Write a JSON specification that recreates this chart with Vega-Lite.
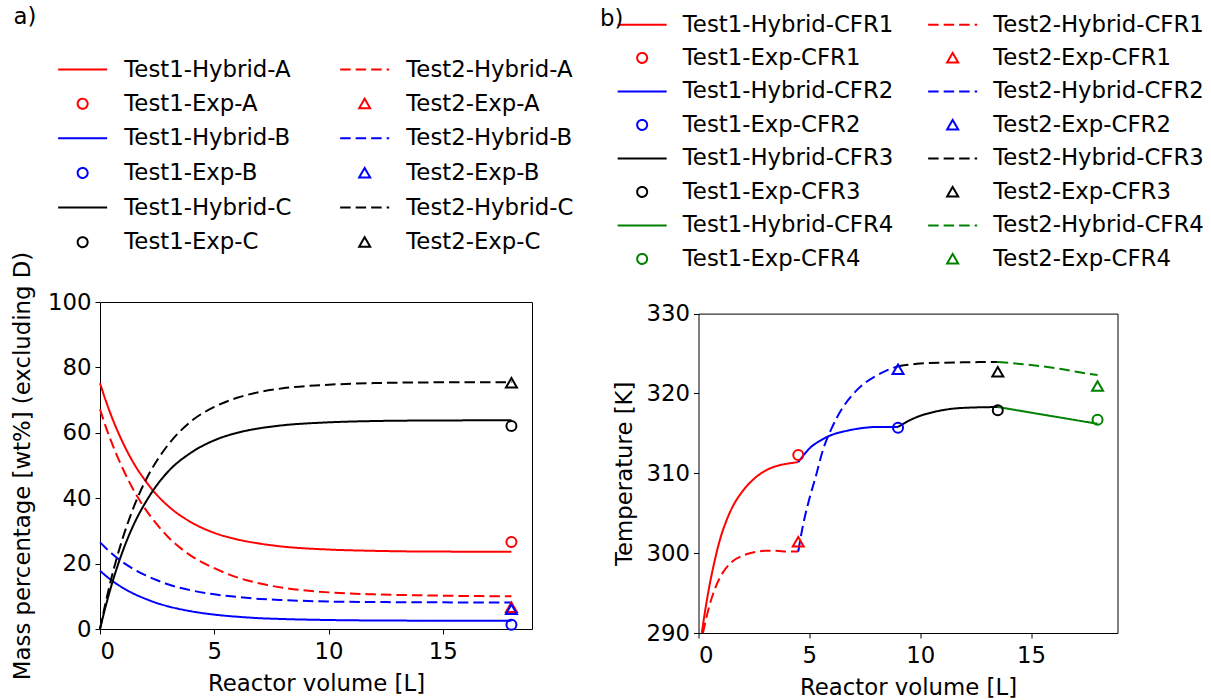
{
  "$schema": "https://vega.github.io/schema/vega-lite/v6.json",
  "padding": {"left": 10, "top": 5, "right": 5, "bottom": 0},
  "background": "white",
  "spacing": 24.5,
  "config": {
    "font": "DejaVu Sans",
    "view": {"stroke": "black", "strokeWidth": 1},
    "axis": {"grid": false, "domain": false, "tickColor": "black", "tickSize": 5, "tickWidth": 1, "labelFontSize": 22.8, "labelColor": "black", "titleFontSize": 22.8, "titleFontWeight": "normal", "titleColor": "black", "labelFont": "DejaVu Sans", "titleFont": "DejaVu Sans", "domainColor": "black", "domainWidth": 1},
    "legend": {"labelFontSize": 22.8, "labelFont": "DejaVu Sans", "labelColor": "black", "labelLimit": 400, "symbolStrokeWidth": 2, "symbolSize": 400, "columns": 2, "padding": 0},
    "title": {"fontSize": 22.8, "fontWeight": "normal", "font": "DejaVu Sans", "color": "black", "anchor": "start", "frame": "bounds", "offset": 0}
  },
  "datasets": {
    "leftLines": [
      {"series": "Test1-Hybrid-A", "volume": 0, "value": 75.2}, {"series": "Test1-Hybrid-A", "volume": 0.25, "value": 69.9}, {"series": "Test1-Hybrid-A", "volume": 0.5, "value": 65.1}, {"series": "Test1-Hybrid-A", "volume": 1, "value": 57.0}, {"series": "Test1-Hybrid-A", "volume": 1.5, "value": 50.4}, {"series": "Test1-Hybrid-A", "volume": 2, "value": 45.2}, {"series": "Test1-Hybrid-A", "volume": 2.5, "value": 40.9}, {"series": "Test1-Hybrid-A", "volume": 3, "value": 37.5}, {"series": "Test1-Hybrid-A", "volume": 4, "value": 32.6}, {"series": "Test1-Hybrid-A", "volume": 5, "value": 29.4}, {"series": "Test1-Hybrid-A", "volume": 6, "value": 27.4}, {"series": "Test1-Hybrid-A", "volume": 7, "value": 26.1}, {"series": "Test1-Hybrid-A", "volume": 8, "value": 25.2}, {"series": "Test1-Hybrid-A", "volume": 10, "value": 24.3}, {"series": "Test1-Hybrid-A", "volume": 12, "value": 23.9}, {"series": "Test1-Hybrid-A", "volume": 14, "value": 23.7}, {"series": "Test1-Hybrid-A", "volume": 16, "value": 23.65}, {"series": "Test1-Hybrid-A", "volume": 18, "value": 23.6},
      {"series": "Test2-Hybrid-A", "volume": 0, "value": 67.2}, {"series": "Test2-Hybrid-A", "volume": 0.25, "value": 61.9}, {"series": "Test2-Hybrid-A", "volume": 0.5, "value": 57.2}, {"series": "Test2-Hybrid-A", "volume": 1, "value": 49.0}, {"series": "Test2-Hybrid-A", "volume": 1.5, "value": 42.1}, {"series": "Test2-Hybrid-A", "volume": 2, "value": 36.5}, {"series": "Test2-Hybrid-A", "volume": 2.5, "value": 31.9}, {"series": "Test2-Hybrid-A", "volume": 3, "value": 28.0}, {"series": "Test2-Hybrid-A", "volume": 4, "value": 22.3}, {"series": "Test2-Hybrid-A", "volume": 5, "value": 18.6}, {"series": "Test2-Hybrid-A", "volume": 6, "value": 15.8}, {"series": "Test2-Hybrid-A", "volume": 7, "value": 13.9}, {"series": "Test2-Hybrid-A", "volume": 8, "value": 12.6}, {"series": "Test2-Hybrid-A", "volume": 10, "value": 11.2}, {"series": "Test2-Hybrid-A", "volume": 12, "value": 10.6}, {"series": "Test2-Hybrid-A", "volume": 14, "value": 10.3}, {"series": "Test2-Hybrid-A", "volume": 16, "value": 10.1}, {"series": "Test2-Hybrid-A", "volume": 18, "value": 10.0},
      {"series": "Test1-Hybrid-B", "volume": 0, "value": 17.8}, {"series": "Test1-Hybrid-B", "volume": 0.25, "value": 16.3}, {"series": "Test1-Hybrid-B", "volume": 0.5, "value": 14.9}, {"series": "Test1-Hybrid-B", "volume": 1, "value": 12.6}, {"series": "Test1-Hybrid-B", "volume": 1.5, "value": 10.7}, {"series": "Test1-Hybrid-B", "volume": 2, "value": 9.2}, {"series": "Test1-Hybrid-B", "volume": 2.5, "value": 7.9}, {"series": "Test1-Hybrid-B", "volume": 3, "value": 6.9}, {"series": "Test1-Hybrid-B", "volume": 4, "value": 5.4}, {"series": "Test1-Hybrid-B", "volume": 5, "value": 4.4}, {"series": "Test1-Hybrid-B", "volume": 6, "value": 3.75}, {"series": "Test1-Hybrid-B", "volume": 7, "value": 3.3}, {"series": "Test1-Hybrid-B", "volume": 8, "value": 3.05}, {"series": "Test1-Hybrid-B", "volume": 10, "value": 2.75}, {"series": "Test1-Hybrid-B", "volume": 12, "value": 2.6}, {"series": "Test1-Hybrid-B", "volume": 14, "value": 2.55}, {"series": "Test1-Hybrid-B", "volume": 16, "value": 2.5}, {"series": "Test1-Hybrid-B", "volume": 18, "value": 2.5},
      {"series": "Test2-Hybrid-B", "volume": 0, "value": 26.5}, {"series": "Test2-Hybrid-B", "volume": 0.25, "value": 24.8}, {"series": "Test2-Hybrid-B", "volume": 0.5, "value": 23.2}, {"series": "Test2-Hybrid-B", "volume": 1, "value": 20.4}, {"series": "Test2-Hybrid-B", "volume": 1.5, "value": 18.2}, {"series": "Test2-Hybrid-B", "volume": 2, "value": 16.4}, {"series": "Test2-Hybrid-B", "volume": 2.5, "value": 14.9}, {"series": "Test2-Hybrid-B", "volume": 3, "value": 13.6}, {"series": "Test2-Hybrid-B", "volume": 4, "value": 11.8}, {"series": "Test2-Hybrid-B", "volume": 5, "value": 10.6}, {"series": "Test2-Hybrid-B", "volume": 6, "value": 9.8}, {"series": "Test2-Hybrid-B", "volume": 7, "value": 9.2}, {"series": "Test2-Hybrid-B", "volume": 8, "value": 8.85}, {"series": "Test2-Hybrid-B", "volume": 10, "value": 8.4}, {"series": "Test2-Hybrid-B", "volume": 12, "value": 8.25}, {"series": "Test2-Hybrid-B", "volume": 14, "value": 8.17}, {"series": "Test2-Hybrid-B", "volume": 16, "value": 8.13}, {"series": "Test2-Hybrid-B", "volume": 18, "value": 8.1},
      {"series": "Test1-Hybrid-C", "volume": 0, "value": 0}, {"series": "Test1-Hybrid-C", "volume": 0.25, "value": 7.0}, {"series": "Test1-Hybrid-C", "volume": 0.5, "value": 13.3}, {"series": "Test1-Hybrid-C", "volume": 1, "value": 23.9}, {"series": "Test1-Hybrid-C", "volume": 1.5, "value": 32.3}, {"series": "Test1-Hybrid-C", "volume": 2, "value": 38.8}, {"series": "Test1-Hybrid-C", "volume": 2.5, "value": 44.1}, {"series": "Test1-Hybrid-C", "volume": 3, "value": 48.3}, {"series": "Test1-Hybrid-C", "volume": 4, "value": 54.0}, {"series": "Test1-Hybrid-C", "volume": 5, "value": 57.7}, {"series": "Test1-Hybrid-C", "volume": 6, "value": 60.0}, {"series": "Test1-Hybrid-C", "volume": 7, "value": 61.4}, {"series": "Test1-Hybrid-C", "volume": 8, "value": 62.3}, {"series": "Test1-Hybrid-C", "volume": 10, "value": 63.2}, {"series": "Test1-Hybrid-C", "volume": 12, "value": 63.6}, {"series": "Test1-Hybrid-C", "volume": 14, "value": 63.75}, {"series": "Test1-Hybrid-C", "volume": 16, "value": 63.8}, {"series": "Test1-Hybrid-C", "volume": 18, "value": 63.8},
      {"series": "Test2-Hybrid-C", "volume": 0, "value": 0}, {"series": "Test2-Hybrid-C", "volume": 0.25, "value": 8.2}, {"series": "Test2-Hybrid-C", "volume": 0.5, "value": 15.6}, {"series": "Test2-Hybrid-C", "volume": 1, "value": 27.9}, {"series": "Test2-Hybrid-C", "volume": 1.5, "value": 37.7}, {"series": "Test2-Hybrid-C", "volume": 2, "value": 45.5}, {"series": "Test2-Hybrid-C", "volume": 2.5, "value": 51.6}, {"series": "Test2-Hybrid-C", "volume": 3, "value": 56.5}, {"series": "Test2-Hybrid-C", "volume": 4, "value": 63.6}, {"series": "Test2-Hybrid-C", "volume": 5, "value": 67.9}, {"series": "Test2-Hybrid-C", "volume": 6, "value": 70.7}, {"series": "Test2-Hybrid-C", "volume": 7, "value": 72.5}, {"series": "Test2-Hybrid-C", "volume": 8, "value": 73.6}, {"series": "Test2-Hybrid-C", "volume": 10, "value": 74.7}, {"series": "Test2-Hybrid-C", "volume": 12, "value": 75.2}, {"series": "Test2-Hybrid-C", "volume": 14, "value": 75.4}, {"series": "Test2-Hybrid-C", "volume": 16, "value": 75.45}, {"series": "Test2-Hybrid-C", "volume": 18, "value": 75.5}
    ],
    "leftPoints": [
      {"series": "Test1-Exp-A", "volume": 18, "value": 26.6},
      {"series": "Test2-Exp-A", "volume": 18, "value": 6.6},
      {"series": "Test1-Exp-B", "volume": 18, "value": 1.3},
      {"series": "Test2-Exp-B", "volume": 18, "value": 6.0},
      {"series": "Test1-Exp-C", "volume": 18, "value": 62.1},
      {"series": "Test2-Exp-C", "volume": 18, "value": 75.2}
    ],
    "rightLines": [
      {"series": "Test1-Hybrid-CFR1", "volume": 0.15, "value": 290.0}, {"series": "Test1-Hybrid-CFR1", "volume": 0.3, "value": 292.8}, {"series": "Test1-Hybrid-CFR1", "volume": 0.5, "value": 296.0}, {"series": "Test1-Hybrid-CFR1", "volume": 0.75, "value": 299.3}, {"series": "Test1-Hybrid-CFR1", "volume": 1.0, "value": 302.0}, {"series": "Test1-Hybrid-CFR1", "volume": 1.25, "value": 304.0}, {"series": "Test1-Hybrid-CFR1", "volume": 1.5, "value": 305.6}, {"series": "Test1-Hybrid-CFR1", "volume": 2.0, "value": 307.8}, {"series": "Test1-Hybrid-CFR1", "volume": 2.5, "value": 309.3}, {"series": "Test1-Hybrid-CFR1", "volume": 3.0, "value": 310.3}, {"series": "Test1-Hybrid-CFR1", "volume": 3.5, "value": 310.9}, {"series": "Test1-Hybrid-CFR1", "volume": 4.0, "value": 311.2}, {"series": "Test1-Hybrid-CFR1", "volume": 4.5, "value": 311.4},
      {"series": "Test2-Hybrid-CFR1", "volume": 0.2, "value": 290.0}, {"series": "Test2-Hybrid-CFR1", "volume": 0.5, "value": 293.5}, {"series": "Test2-Hybrid-CFR1", "volume": 0.75, "value": 295.6}, {"series": "Test2-Hybrid-CFR1", "volume": 1.0, "value": 297.1}, {"series": "Test2-Hybrid-CFR1", "volume": 1.5, "value": 298.9}, {"series": "Test2-Hybrid-CFR1", "volume": 2.0, "value": 299.7}, {"series": "Test2-Hybrid-CFR1", "volume": 2.5, "value": 300.1}, {"series": "Test2-Hybrid-CFR1", "volume": 3.0, "value": 300.3}, {"series": "Test2-Hybrid-CFR1", "volume": 3.5, "value": 300.3}, {"series": "Test2-Hybrid-CFR1", "volume": 4.0, "value": 300.2}, {"series": "Test2-Hybrid-CFR1", "volume": 4.5, "value": 300.2},
      {"series": "Test1-Hybrid-CFR2", "volume": 4.5, "value": 311.4}, {"series": "Test1-Hybrid-CFR2", "volume": 4.75, "value": 312.3}, {"series": "Test1-Hybrid-CFR2", "volume": 5.0, "value": 313.1}, {"series": "Test1-Hybrid-CFR2", "volume": 5.5, "value": 314.1}, {"series": "Test1-Hybrid-CFR2", "volume": 6.0, "value": 314.8}, {"series": "Test1-Hybrid-CFR2", "volume": 6.5, "value": 315.2}, {"series": "Test1-Hybrid-CFR2", "volume": 7.0, "value": 315.5}, {"series": "Test1-Hybrid-CFR2", "volume": 7.5, "value": 315.7}, {"series": "Test1-Hybrid-CFR2", "volume": 8.0, "value": 315.8}, {"series": "Test1-Hybrid-CFR2", "volume": 9.0, "value": 315.8},
      {"series": "Test2-Hybrid-CFR2", "volume": 4.5, "value": 300.2}, {"series": "Test2-Hybrid-CFR2", "volume": 4.7, "value": 303.3}, {"series": "Test2-Hybrid-CFR2", "volume": 5.0, "value": 306.8}, {"series": "Test2-Hybrid-CFR2", "volume": 5.3, "value": 309.7}, {"series": "Test2-Hybrid-CFR2", "volume": 5.6, "value": 312.8}, {"series": "Test2-Hybrid-CFR2", "volume": 6.0, "value": 315.6}, {"series": "Test2-Hybrid-CFR2", "volume": 6.5, "value": 318.2}, {"series": "Test2-Hybrid-CFR2", "volume": 7.0, "value": 320.0}, {"series": "Test2-Hybrid-CFR2", "volume": 7.5, "value": 321.3}, {"series": "Test2-Hybrid-CFR2", "volume": 8.0, "value": 322.2}, {"series": "Test2-Hybrid-CFR2", "volume": 8.5, "value": 322.9}, {"series": "Test2-Hybrid-CFR2", "volume": 9.0, "value": 323.4},
      {"series": "Test1-Hybrid-CFR3", "volume": 9.0, "value": 315.8}, {"series": "Test1-Hybrid-CFR3", "volume": 9.5, "value": 316.6}, {"series": "Test1-Hybrid-CFR3", "volume": 10.0, "value": 317.2}, {"series": "Test1-Hybrid-CFR3", "volume": 10.5, "value": 317.6}, {"series": "Test1-Hybrid-CFR3", "volume": 11.0, "value": 317.9}, {"series": "Test1-Hybrid-CFR3", "volume": 11.5, "value": 318.1}, {"series": "Test1-Hybrid-CFR3", "volume": 12.0, "value": 318.2}, {"series": "Test1-Hybrid-CFR3", "volume": 13.5, "value": 318.3},
      {"series": "Test2-Hybrid-CFR3", "volume": 9.0, "value": 323.4}, {"series": "Test2-Hybrid-CFR3", "volume": 9.5, "value": 323.6}, {"series": "Test2-Hybrid-CFR3", "volume": 10.0, "value": 323.75}, {"series": "Test2-Hybrid-CFR3", "volume": 11.0, "value": 323.85}, {"series": "Test2-Hybrid-CFR3", "volume": 12.0, "value": 323.9}, {"series": "Test2-Hybrid-CFR3", "volume": 13.5, "value": 323.95},
      {"series": "Test1-Hybrid-CFR4", "volume": 13.5, "value": 318.3}, {"series": "Test1-Hybrid-CFR4", "volume": 15.0, "value": 317.6}, {"series": "Test1-Hybrid-CFR4", "volume": 16.5, "value": 316.9}, {"series": "Test1-Hybrid-CFR4", "volume": 18.0, "value": 316.2},
      {"series": "Test2-Hybrid-CFR4", "volume": 13.5, "value": 323.95}, {"series": "Test2-Hybrid-CFR4", "volume": 14.5, "value": 323.7}, {"series": "Test2-Hybrid-CFR4", "volume": 15.5, "value": 323.4}, {"series": "Test2-Hybrid-CFR4", "volume": 16.5, "value": 323.0}, {"series": "Test2-Hybrid-CFR4", "volume": 17.5, "value": 322.5}, {"series": "Test2-Hybrid-CFR4", "volume": 18.0, "value": 322.3}
    ],
    "rightPoints": [
      {"series": "Test1-Exp-CFR1", "volume": 4.5, "value": 312.3},
      {"series": "Test2-Exp-CFR1", "volume": 4.5, "value": 301.4},
      {"series": "Test1-Exp-CFR2", "volume": 9.0, "value": 315.7},
      {"series": "Test2-Exp-CFR2", "volume": 9.0, "value": 323.0},
      {"series": "Test1-Exp-CFR3", "volume": 13.5, "value": 317.9},
      {"series": "Test2-Exp-CFR3", "volume": 13.5, "value": 322.7},
      {"series": "Test1-Exp-CFR4", "volume": 18.0, "value": 316.7},
      {"series": "Test2-Exp-CFR4", "volume": 18.0, "value": 320.9}
    ]
  },
  "hconcat": [
    {
      "title": {"text": "a)", "dx": 2, "dy": -24.75},
      "width": 432,
      "height": 327,
      "layer": [
        {
          "data": {"name": "leftLines"},
          "mark": {"type": "line", "strokeWidth": 2, "interpolate": "monotone"},
          "encoding": {
            "x": {"field": "volume", "type": "quantitative", "scale": {"domain": [0, 18.9], "nice": false, "zero": false}, "axis": {"values": [0, 5, 10, 15], "title": "Reactor volume [L]", "labelPadding": 6, "titlePadding": 10}},
            "y": {"field": "value", "type": "quantitative", "scale": {"domain": [0, 100], "nice": false}, "axis": {"values": [0, 20, 40, 60, 80, 100], "title": "Mass percentage [wt%] (excluding D)", "labelPadding": 4, "titlePadding": 13}},
            "color": {"field": "series", "type": "nominal",
              "scale": {"domain": ["Test1-Hybrid-A", "Test1-Exp-A", "Test1-Hybrid-B", "Test1-Exp-B", "Test1-Hybrid-C", "Test1-Exp-C", "Test2-Hybrid-A", "Test2-Exp-A", "Test2-Hybrid-B", "Test2-Exp-B", "Test2-Hybrid-C", "Test2-Exp-C"],
                "range": ["#ff0000", "#ff0000", "#0000ff", "#0000ff", "#000000", "#000000", "#ff0000", "#ff0000", "#0000ff", "#0000ff", "#000000", "#000000"]},
              "legend": {"orient": "none", "legendX": -28.75, "legendY": -244.25, "title": null, "columns": 2, "columnPadding": 43, "rowPadding": 10.6, "labelOffset": 30.25}},
            "strokeDash": {"field": "series", "type": "nominal",
              "scale": {"domain": ["Test1-Hybrid-A", "Test1-Exp-A", "Test1-Hybrid-B", "Test1-Exp-B", "Test1-Hybrid-C", "Test1-Exp-C", "Test2-Hybrid-A", "Test2-Exp-A", "Test2-Hybrid-B", "Test2-Exp-B", "Test2-Hybrid-C", "Test2-Exp-C"],
                "range": [[1, 0], [1, 0], [1, 0], [1, 0], [1, 0], [1, 0], [10.5, 5], [1, 0], [10.5, 5], [1, 0], [10.5, 5], [1, 0]]},
              "legend": {"orient": "none", "legendX": -28.75, "legendY": -244.25, "title": null, "columns": 2, "columnPadding": 43, "rowPadding": 10.6, "labelOffset": 30.25}}
          }
        },
        {
          "data": {"name": "leftPoints"},
          "mark": {"type": "point", "filled": false, "strokeWidth": 2, "opacity": 1, "size": 400},
          "encoding": {
            "x": {"field": "volume", "type": "quantitative"},
            "y": {"field": "value", "type": "quantitative"},
            "color": {"field": "series", "type": "nominal"},
            "shape": {"field": "series", "type": "nominal",
              "scale": {"domain": ["Test1-Hybrid-A", "Test1-Exp-A", "Test1-Hybrid-B", "Test1-Exp-B", "Test1-Hybrid-C", "Test1-Exp-C", "Test2-Hybrid-A", "Test2-Exp-A", "Test2-Hybrid-B", "Test2-Exp-B", "Test2-Hybrid-C", "Test2-Exp-C"],
                "range": ["M-2.45,0L2.45,0", "M0.5,0A0.5,0.5,0,1,1,-0.5,0A0.5,0.5,0,1,1,0.5,0Z", "M-2.45,0L2.45,0", "M0.5,0A0.5,0.5,0,1,1,-0.5,0A0.5,0.5,0,1,1,0.5,0Z", "M-2.45,0L2.45,0", "M0.5,0A0.5,0.5,0,1,1,-0.5,0A0.5,0.5,0,1,1,0.5,0Z", "M-2.45,0L2.45,0", "M0,-0.5L0.55,0.45L-0.55,0.45Z", "M-2.45,0L2.45,0", "M0,-0.5L0.55,0.45L-0.55,0.45Z", "M-2.45,0L2.45,0", "M0,-0.5L0.55,0.45L-0.55,0.45Z"]},
              "legend": {"orient": "none", "legendX": -28.75, "legendY": -244.25, "title": null, "columns": 2, "columnPadding": 43, "rowPadding": 10.6, "labelOffset": 30.25}}
          }
        }
      ]
    },
    {
      "title": {"text": "b)", "dx": -14, "dy": 21.95},
      "width": 419,
      "height": 331,
      "view": {"stroke": null},
      "layer": [
        {
          "data": {"name": "rightLines"},
          "mark": {"type": "line", "strokeWidth": 2, "interpolate": "monotone", "clip": true},
          "encoding": {
            "x": {"field": "volume", "type": "quantitative", "scale": {"domain": [0, 18.9], "nice": false, "zero": false}, "axis": {"values": [0, 5, 10, 15], "title": "Reactor volume [L]", "labelPadding": 6, "titlePadding": 10, "domain": true}},
            "y": {"field": "value", "type": "quantitative", "scale": {"domain": [290, 330], "nice": false, "zero": false, "range": [331, 11.6]}, "axis": {"values": [290, 300, 310, 320, 330], "title": "Temperature [K]", "labelPadding": 4, "titlePadding": 9, "domain": true}},
            "color": {"field": "series", "type": "nominal",
              "scale": {"domain": ["Test1-Hybrid-CFR1", "Test1-Exp-CFR1", "Test1-Hybrid-CFR2", "Test1-Exp-CFR2", "Test1-Hybrid-CFR3", "Test1-Exp-CFR3", "Test1-Hybrid-CFR4", "Test1-Exp-CFR4", "Test2-Hybrid-CFR1", "Test2-Exp-CFR1", "Test2-Hybrid-CFR2", "Test2-Exp-CFR2", "Test2-Hybrid-CFR3", "Test2-Exp-CFR3", "Test2-Hybrid-CFR4", "Test2-Exp-CFR4"],
                "range": ["#ff0000", "#ff0000", "#0000ff", "#0000ff", "#000000", "#000000", "#008000", "#008000", "#ff0000", "#ff0000", "#0000ff", "#0000ff", "#000000", "#000000", "#008000", "#008000"]},
              "legend": {"orient": "none", "legendX": -67.75, "legendY": -289, "title": null, "columns": 2, "columnPadding": 29.5, "rowPadding": 9.5, "labelOffset": 29.25}},
            "strokeDash": {"field": "series", "type": "nominal",
              "scale": {"domain": ["Test1-Hybrid-CFR1", "Test1-Exp-CFR1", "Test1-Hybrid-CFR2", "Test1-Exp-CFR2", "Test1-Hybrid-CFR3", "Test1-Exp-CFR3", "Test1-Hybrid-CFR4", "Test1-Exp-CFR4", "Test2-Hybrid-CFR1", "Test2-Exp-CFR1", "Test2-Hybrid-CFR2", "Test2-Exp-CFR2", "Test2-Hybrid-CFR3", "Test2-Exp-CFR3", "Test2-Hybrid-CFR4", "Test2-Exp-CFR4"],
                "range": [[1, 0], [1, 0], [1, 0], [1, 0], [1, 0], [1, 0], [1, 0], [1, 0], [10.5, 5], [1, 0], [10.5, 5], [1, 0], [10.5, 5], [1, 0], [10.5, 5], [1, 0]]},
              "legend": {"orient": "none", "legendX": -67.75, "legendY": -289, "title": null, "columns": 2, "columnPadding": 29.5, "rowPadding": 9.5, "labelOffset": 29.25}}
          }
        },
        {
          "data": {"name": "rightPoints"},
          "mark": {"type": "point", "filled": false, "strokeWidth": 2, "opacity": 1, "size": 400},
          "encoding": {
            "x": {"field": "volume", "type": "quantitative", "axis": {"orient": "top", "labels": false, "ticks": false, "title": null, "domain": true, "offset": -11.6}},
            "y": {"field": "value", "type": "quantitative", "axis": {"orient": "right", "labels": false, "ticks": false, "title": null, "domain": true}},
            "color": {"field": "series", "type": "nominal"},
            "shape": {"field": "series", "type": "nominal",
              "scale": {"domain": ["Test1-Hybrid-CFR1", "Test1-Exp-CFR1", "Test1-Hybrid-CFR2", "Test1-Exp-CFR2", "Test1-Hybrid-CFR3", "Test1-Exp-CFR3", "Test1-Hybrid-CFR4", "Test1-Exp-CFR4", "Test2-Hybrid-CFR1", "Test2-Exp-CFR1", "Test2-Hybrid-CFR2", "Test2-Exp-CFR2", "Test2-Hybrid-CFR3", "Test2-Exp-CFR3", "Test2-Hybrid-CFR4", "Test2-Exp-CFR4"],
                "range": ["M-2.45,0L2.45,0", "M0.5,0A0.5,0.5,0,1,1,-0.5,0A0.5,0.5,0,1,1,0.5,0Z", "M-2.45,0L2.45,0", "M0.5,0A0.5,0.5,0,1,1,-0.5,0A0.5,0.5,0,1,1,0.5,0Z", "M-2.45,0L2.45,0", "M0.5,0A0.5,0.5,0,1,1,-0.5,0A0.5,0.5,0,1,1,0.5,0Z", "M-2.45,0L2.45,0", "M0.5,0A0.5,0.5,0,1,1,-0.5,0A0.5,0.5,0,1,1,0.5,0Z", "M-2.45,0L2.45,0", "M0,-0.5L0.55,0.45L-0.55,0.45Z", "M-2.45,0L2.45,0", "M0,-0.5L0.55,0.45L-0.55,0.45Z", "M-2.45,0L2.45,0", "M0,-0.5L0.55,0.45L-0.55,0.45Z", "M-2.45,0L2.45,0", "M0,-0.5L0.55,0.45L-0.55,0.45Z"]},
              "legend": {"orient": "none", "legendX": -67.75, "legendY": -289, "title": null, "columns": 2, "columnPadding": 29.5, "rowPadding": 9.5, "labelOffset": 29.25}}
          }
        }
      ],
      "resolve": {"axis": {"x": "independent", "y": "independent"}}
    }
  ],
  "resolve": {
    "scale": {"x": "independent", "y": "independent", "color": "independent", "strokeDash": "independent", "shape": "independent"},
    "legend": {"color": "independent", "strokeDash": "independent", "shape": "independent"}
  }
}
